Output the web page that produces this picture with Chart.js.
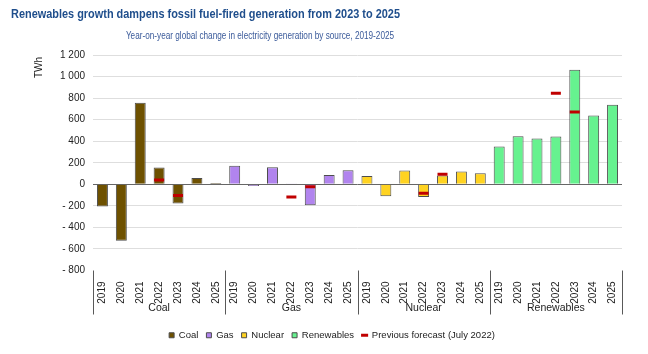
<!DOCTYPE html>
<html lang="en">
<head>
    <meta charset="UTF-8">
    <title>Renewables growth dampens fossil fuel-fired generation</title>
    <script src="https://cdn.jsdelivr.net/npm/chart.js"></script>
    <style>
        html, body { margin: 0; padding: 0; background: #fff; }
        #wrap { position: relative; width: 648px; height: 354px; }
    </style>
</head>
<body>
    <div id="wrap"><canvas id="chart" width="648" height="354"></canvas></div>

    <script>
        // Data (TWh, year-on-year change)
        const sources = ["Coal", "Gas", "Nuclear", "Renewables"];
        const years = ["2019", "2020", "2021", "2022", "2023", "2024", "2025"];

        const coal = [-206, -525, 756, 156, -178, 59, 12];
        const gas = [172, -16, 159, 8, -194, 87, 131];
        const nuclear = [78, -112, 128, -119, 81, 119, 103];
        const renewables = [350, 447, 425, 444, 1063, 638, 738];

        // previous forecast (July 2022), only 2022 and 2023
        const coalPrev = [null, null, null, 41, -103, null, null];
        const gasPrev = [null, null, null, -119, -22, null, null];
        const nuclearPrev = [null, null, null, -84, 94, null, null];
        const renewablesPrev = [null, null, null, 844, 672, null, null];

        const yTicks = [-800, -600, -400, -200, 0, 200, 400, 600, 800, 1000, 1200];

        const titleText = "Renewables growth dampens fossil fuel-fired generation from 2023 to 2025";
        const subtitleText = "Year-on-year global change in electricity generation by source, 2019-2025";

        const colors = ["#6e5100", "#b184ee", "#ffd321", "#66f28f"];
        const FONT = "'Liberation Sans', Arial, sans-serif";

        // one label per (source, year)
        const labels = [];
        sources.forEach(() => years.forEach(y => labels.push(y)));

        const seriesList = [coal, gas, nuclear, renewables];
        const prevList = [coalPrev, gasPrev, nuclearPrev, renewablesPrev];

        function spread(idx, arr) {
            const out = new Array(labels.length).fill(null);
            arr.forEach((v, i) => { out[idx * years.length + i] = v; });
            return out;
        }

        const datasets = sources.map((name, i) => ({
            type: "bar",
            label: name,
            data: spread(i, seriesList[i]),
            backgroundColor: colors[i],
            borderColor: "#4d4d4d",
            borderWidth: 1,
            pointStyle: "rect",
            order: 1
        }));

        let prevData = new Array(labels.length).fill(null);
        prevList.forEach((arr, i) => {
            const s = spread(i, arr);
            s.forEach((v, j) => { if (v !== null) prevData[j] = v; });
        });

        datasets.push({
            type: "line",
            label: "Previous forecast (July 2022)",
            data: prevData,
            showLine: false,
            pointStyle: "line",
            pointRadius: 5,
            pointHoverRadius: 5,
            borderColor: "#c00000",
            backgroundColor: "#c00000",
            borderWidth: 3,
            order: 0
        });

        function fmt(v) {
            const s = Math.abs(v).toString().replace(/\B(?=(\d{3})+(?!\d))/g, " ");
            return v < 0 ? "- " + s : s;
        }

        // condensed text (no narrow font available, so squeeze horizontally)
        function squeezed(ctx, text, x, y, sx, align) {
            ctx.save();
            ctx.textAlign = align;
            ctx.translate(x, y);
            ctx.scale(sx, 1);
            ctx.fillText(text, 0, 0);
            ctx.restore();
        }

        // title, subtitle, axis unit, group labels and separators
        const extras = {
            id: "extras",
            afterDraw(chart) {
                const ctx = chart.ctx;
                const x = chart.scales.x;
                const area = chart.chartArea;
                ctx.save();
                ctx.textBaseline = "middle";
                ctx.fillStyle = "#1f4e8c";
                ctx.font = "bold 13px " + FONT;
                squeezed(ctx, titleText, 11, 14, 0.84, "left");

                ctx.fillStyle = "#3a5a9a";
                ctx.font = "10px " + FONT;
                squeezed(ctx, subtitleText, 260, 36, 0.82, "center");

                // unit label, rotated
                ctx.save();
                ctx.fillStyle = "#222";
                ctx.font = "10px " + FONT;
                ctx.translate(39, area.top + 2);
                ctx.rotate(-Math.PI / 2);
                ctx.textAlign = "right";
                ctx.fillText("TWh", 0, 0);
                ctx.restore();

                const step = x.getPixelForValue(1) - x.getPixelForValue(0);
                ctx.strokeStyle = "#595959";
                ctx.lineWidth = 1;
                ctx.fillStyle = "#222";
                ctx.font = "10.5px " + FONT;
                ctx.textAlign = "center";
                for (let g = 0; g <= sources.length; g++) {
                    const px = Math.round(x.getPixelForValue(g * years.length) - step / 2) + 0.5;
                    ctx.beginPath();
                    ctx.moveTo(px, area.bottom);
                    ctx.lineTo(px, area.bottom + 44);
                    ctx.stroke();
                }
                sources.forEach((name, g) => {
                    const cx = (x.getPixelForValue(g * years.length) + x.getPixelForValue(g * years.length + years.length - 1)) / 2;
                    ctx.fillText(name, cx, area.bottom + 38);
                });
                ctx.restore();
            }
        };

        new Chart(document.getElementById("chart"), {
            data: { labels: labels, datasets: datasets },
            plugins: [extras],
            options: {
                responsive: false,
                animation: false,
                layout: { padding: { left: 42, right: 26, top: 55, bottom: 4 } },
                datasets: {
                    bar: { categoryPercentage: 1, barPercentage: 0.58 }
                },
                scales: {
                    x: {
                        stacked: true,
                        grid: { display: false },
                        border: { display: false },
                        ticks: {
                            minRotation: 90, maxRotation: 90, autoSkip: false,
                            color: "#222", padding: 3,
                            font: { family: FONT, size: 10 }
                        },
                        afterFit(scale) { scale.height = 52; }
                    },
                    y: {
                        stacked: true,
                        min: -800, max: 1200,
                        afterBuildTicks(scale) { scale.ticks = yTicks.map(v => ({ value: v })); },
                        afterFit(scale) { scale.width = 51; },
                        border: { display: false },
                        grid: {
                            drawTicks: false,
                            color: c => c.tick.value === 0 ? "#666" : (c.tick.value === -800 ? "rgba(0,0,0,0)" : "#dedede"),
                            lineWidth: 1
                        },
                        ticks: {
                            color: "#222", padding: 8,
                            font: { family: FONT, size: 10 },
                            callback: v => fmt(v)
                        }
                    }
                },
                plugins: {
                    title: { display: false },
                    legend: {
                        position: "bottom",
                        labels: {
                            usePointStyle: true,
                            boxWidth: 5, boxHeight: 5,
                            padding: 8,
                            color: "#222",
                            font: { family: FONT, size: 9.5 },
                            sort: (a, b) => a.datasetIndex - b.datasetIndex
                        }
                    },
                    tooltip: { enabled: false }
                }
            }
        });
    </script>
</body>
</html>
